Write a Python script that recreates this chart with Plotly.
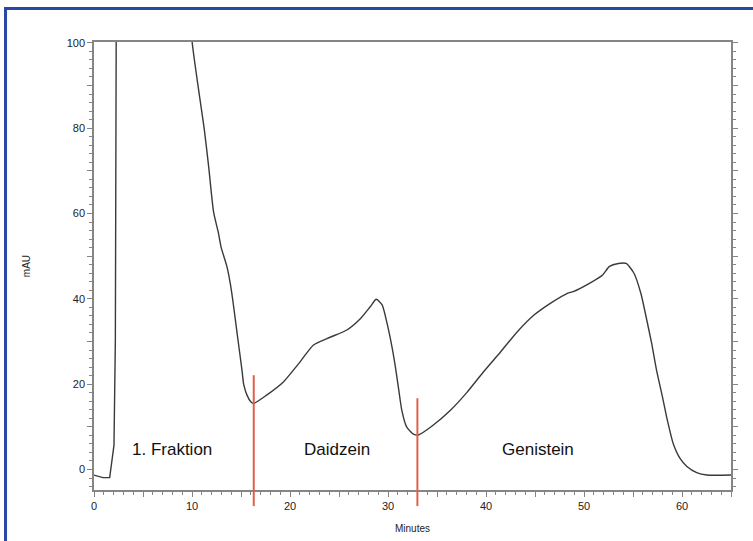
import plotly.graph_objects as go

# Chromatogram trace (minutes, mAU)
minutes = [0.0, 0.9, 1.6, 1.85, 2.04, 2.18, 2.3, 9.6, 10.0, 10.34, 10.8, 11.25, 11.7, 12.2,
           12.7, 12.96, 13.57, 13.9, 14.15, 14.65, 15.1, 15.27, 15.6, 16.0, 16.3, 17.65, 19.35,
           21.05, 22.4, 24.1, 25.8, 27.2, 28.2, 28.8, 29.4, 29.9, 30.4, 30.75, 31.1, 31.4, 31.9,
           32.6, 33.1, 34.5, 36.4, 38.1, 39.75, 41.5, 43.2, 44.9, 46.6, 48.3, 48.9, 50.6,
           51.9, 52.6, 53.5, 54.3, 55.1, 55.8, 56.4, 56.9, 57.4, 58.0, 58.5, 59.1, 59.8, 60.5,
           61.5, 62.55, 65.0]
mau = [-1.3, -1.9, -1.9, 2.2, 5.7, 30.4, 130.0, 115.0, 100.5, 94.4, 87.0, 79.8, 71.0, 60.4,
       55.4, 52.2, 47.5, 43.7, 39.9, 31.1, 23.3, 20.0, 17.5, 15.9, 15.5, 17.5, 20.6,
       25.3, 29.2, 31.0, 32.7, 35.4, 38.2, 39.9, 38.6, 34.3, 28.8, 24.1, 18.6, 14.0, 10.0,
       8.3, 8.1, 10.2, 13.95, 18.2, 22.9, 27.6, 32.3, 36.2, 39.0, 41.3, 41.7, 43.7,
       45.6, 47.6, 48.3, 48.3, 46.0, 41.3, 35.1, 29.6, 23.3, 17.1, 11.6, 6.1, 2.6, 0.7,
       -0.75, -1.3, -1.3]

# index where the injection spike (drawn straight) ends and the smooth elution part begins
SPIKE_END = 7

# Fraction dividers
divider_x = [16.3, 33.0]
divider_top = [22.1, 16.7]

# Fraction labels
label_text = ["1. Fraktion", "Daidzein", "Genistein"]
label_x = [7.96, 24.8, 45.3]
label_y = [4.8, 4.8, 4.8]

x_tickvals = list(range(0, 66, 5))
x_ticktext = [str(v) if v % 10 == 0 else "" for v in x_tickvals]
y_tickvals = list(range(0, 101, 10))
y_ticktext = [str(v) if v % 20 == 0 else "" for v in y_tickvals]

Y_MIN, Y_MAX = -4.8, 100.2
AXIS_COL = "#858585"
TXT_COL = "#222222"
LINE_COL = "#3a3a3a"
FONT = "Arial, Liberation Sans, sans-serif"

fig = go.Figure()
fig.add_trace(go.Scatter(x=minutes[:SPIKE_END + 1], y=mau[:SPIKE_END + 1], mode="lines",
                         line=dict(color=LINE_COL, width=1.4),
                         showlegend=False, hoverinfo="skip"))
fig.add_trace(go.Scatter(x=minutes[SPIKE_END:], y=mau[SPIKE_END:], mode="lines",
                         line=dict(color=LINE_COL, width=1.4, shape="spline", smoothing=0.6),
                         showlegend=False, hoverinfo="skip"))

shapes = []
for dx, top in zip(divider_x, divider_top):
    shapes.append(dict(type="line", xref="x", yref="paper", x0=dx, x1=dx,
                       y0=-0.036, y1=(top - Y_MIN) / (Y_MAX - Y_MIN),
                       line=dict(color="#e0604a", width=2)))
# blue frame (left and top)
shapes.append(dict(type="line", xref="paper", yref="paper", x0=-0.1389, x1=1.05,
                   y0=1.0748, y1=1.0748, line=dict(color="#2a47a3", width=3)))
shapes.append(dict(type="line", xref="paper", yref="paper", x0=-0.1389, x1=-0.1389,
                   y0=1.078, y1=-0.13, line=dict(color="#2a47a3", width=3)))

annotations = []
for t, xx, yy in zip(label_text, label_x, label_y):
    annotations.append(dict(text=t, x=xx, y=yy, xref="x", yref="y", showarrow=False,
                            font=dict(family=FONT, size=17, color="#111")))

fig.update_layout(
    template="none",
    width=753, height=541,
    margin=dict(l=94, r=22, t=42, b=51),
    paper_bgcolor="white", plot_bgcolor="white",
    shapes=shapes, annotations=annotations,
    font=dict(family=FONT, color=TXT_COL),
    xaxis=dict(range=[0, 65], showgrid=False, zeroline=False, showline=True,
               linecolor=AXIS_COL, linewidth=1.5, mirror=True,
               ticks="outside", ticklen=5, tickcolor=AXIS_COL, tickwidth=1,
               tickvals=x_tickvals, ticktext=x_ticktext,
               tickfont=dict(size=11, color=TXT_COL),
               minor=dict(dtick=1, ticks="outside", ticklen=3, tickcolor=AXIS_COL, showgrid=False),
               title=dict(text="Minutes", font=dict(size=10, color=TXT_COL), standoff=14)),
    yaxis=dict(range=[Y_MIN, Y_MAX], showgrid=False, zeroline=False, showline=True,
               linecolor=AXIS_COL, linewidth=1.5, mirror="ticks",
               ticks="outside", ticklen=5, tickcolor=AXIS_COL, tickwidth=1,
               tickvals=y_tickvals, ticktext=y_ticktext,
               tickfont=dict(size=11, color=TXT_COL),
               minor=dict(dtick=2, tick0=0, ticks="outside", ticklen=3, tickcolor=AXIS_COL, showgrid=False),
               title=dict(text="mAU", font=dict(size=10, color=TXT_COL), standoff=34)),
)

fig.write_html("out.html")
